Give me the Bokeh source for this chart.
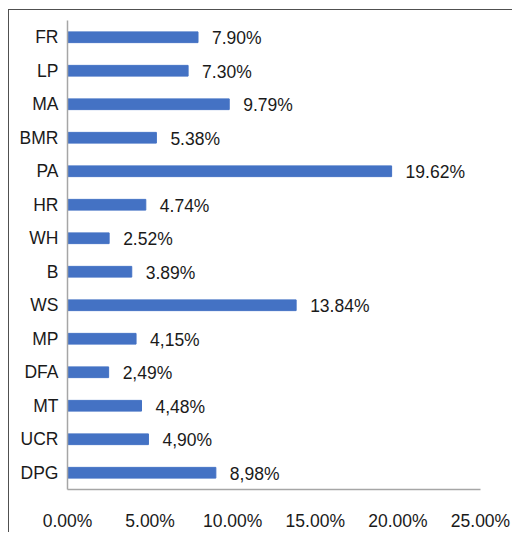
from bokeh.plotting import figure
from bokeh.models import FactorRange, Range1d, FixedTicker, NumeralTickFormatter, ColumnDataSource
from bokeh.core.properties import value
from bokeh.embed import file_html
from bokeh.resources import INLINE

categories = ["FR", "LP", "MA", "BMR", "PA", "HR", "WH", "B", "WS", "MP", "DFA", "MT", "UCR", "DPG"]
values = [0.0790, 0.0730, 0.0979, 0.0538, 0.1962, 0.0474, 0.0252, 0.0389, 0.1384, 0.0415, 0.0249, 0.0448, 0.0490, 0.0898]
value_labels = ["7.90%", "7.30%", "9.79%", "5.38%", "19.62%", "4.74%", "2.52%", "3.89%", "13.84%",
                "4,15%", "2,49%", "4,48%", "4,90%", "8,98%"]
x_ticks = [0.0, 0.05, 0.10, 0.15, 0.20, 0.25]

FONT = "Liberation Sans"
FS = "17.5px"
TXT = "#1a1a1a"
AXIS = "#a6a6a6"

src = ColumnDataSource(dict(cat=categories, val=values, lab=value_labels))

p = figure(width=504, height=523, output_backend="svg", toolbar_location=None,
           y_range=FactorRange(factors=categories[::-1]), x_range=Range1d(0, 0.25),
           min_border_left=58, min_border_right=33, min_border_top=10, min_border_bottom=35)
p.styles = {"margin-left": "8px", "margin-top": "9px",
            "border-left": "1px solid #505050", "border-top": "1px solid #505050"}
p.outline_line_color = None
p.background_fill_color = "white"
p.border_fill_color = "white"
p.xgrid.visible = False
p.ygrid.visible = False

p.hbar(y="cat", right="val", left=0, height=0.32, source=src, color="#4472C4")
p.text(x="val", y="cat", text="lab", source=src, x_offset=14, y_offset=1,
       text_align="left", text_baseline="middle", text_font=value(FONT),
       text_font_size=FS, text_color=TXT)

xa = p.xaxis[0]
xa.ticker = FixedTicker(ticks=x_ticks)
xa.formatter = NumeralTickFormatter(format="0.00%")
xa.major_tick_line_color = None
xa.minor_tick_line_color = None
xa.axis_line_color = AXIS
xa.axis_line_width = 1.5
xa.major_label_text_font = FONT
xa.major_label_text_font_size = FS
xa.major_label_text_color = TXT
xa.major_label_standoff = 15

ya = p.yaxis[0]
ya.major_tick_line_color = None
ya.minor_tick_line_color = None
ya.axis_line_color = AXIS
ya.axis_line_width = 1.5
ya.major_label_text_font = FONT
ya.major_label_text_font_size = FS
ya.major_label_text_color = TXT
ya.major_label_standoff = 3

open("out.html", "w").write(file_html(p, INLINE))
